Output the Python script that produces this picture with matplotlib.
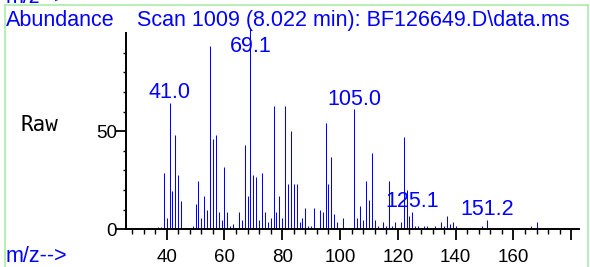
import matplotlib
matplotlib.use('Agg')
import matplotlib.pyplot as plt
from matplotlib.lines import Line2D

mz = [37, 38, 39, 40, 41, 42, 43, 44, 45,
      49, 50, 51, 52, 53, 54, 55, 56, 57, 58, 59, 60, 61, 62, 63,
      65, 66, 67, 68, 69, 70, 71, 72, 73, 74, 75, 76, 77, 78, 79, 80,
      81, 82, 83, 84, 85, 86, 87, 88, 89, 90, 91, 93, 94, 95, 96, 97,
      98, 99, 101, 103, 105, 106, 107, 108, 109, 110, 111, 112, 113,
      115, 116, 117, 118, 119, 121, 122, 123, 124, 125, 126, 127, 129,
      130, 133, 135, 136, 137, 138, 139, 140, 141, 148, 149, 151, 166, 168]
abundance = [1.3, 1.3, 28.8, 5.6, 64.2, 19.7, 47.9, 27.7, 14.6,
             1.7, 12.9, 24.6, 5.6, 16.8, 9.7, 93.4, 46.0, 47.9, 8.7, 4.7, 31.9, 8.7, 1.5, 2.7,
             8.7, 4.7, 42.9, 17.0, 102.0, 27.7, 26.8, 4.7, 28.8, 8.7, 3.6, 5.6, 62.8, 8.7, 17.0, 5.6,
             62.8, 22.9, 50.0, 22.9, 22.9, 3.6, 5.6, 10.7, 1.7, 1.7, 10.7, 9.7, 8.7, 54.0, 22.9, 37.0,
             7.6, 3.7, 5.9, 0.5, 61.1, 5.9, 11.9, 4.7, 24.8, 14.9, 39.0, 4.7, 1.8,
             3.7, 1.8, 24.8, 1.8, 3.7, 3.7, 46.9, 20.0, 6.8, 8.8, 1.7, 1.7, 1.7,
             1.7, 1.7, 3.7, 1.7, 6.8, 2.7, 3.7, 1.7, 0.5, 0.7, 1.7, 4.7, 1.7, 3.7]

peak_labels = ['41.0', '69.1', '105.0', '125.1', '151.2']
peak_x = [41, 69, 105, 125, 151]
peak_label_y = [66.7, 90.5, 63.3, 11.2, 7.3]

x_major = [40, 60, 80, 100, 120, 140, 160, 180]
x_major_labels = ['40', '60', '80', '100', '120', '140', '160', '']
x_minor = [v for v in range(28, 180, 4) if v not in x_major]
y_major = [0, 50]
y_minor = [10, 20, 30, 40, 60, 70, 80, 90]

title = 'Scan 1009 (8.022 min): BF126649.D\\data.ms'

BLUE = '#0000ff'
SANS = 'Liberation Sans'


def main():
    fig = plt.figure(figsize=(5.9, 2.67), dpi=100)
    ax = fig.add_axes([0.2144, 0.1412, 0.7670, 0.7352])

    ax.vlines(mz, 0, abundance, colors=BLUE, linewidth=0.75, clip_on=False)
    for lab, x, y in zip(peak_labels, peak_x, peak_label_y):
        ax.text(x, y, lab, color=BLUE, fontsize=15.5, family=SANS,
                ha='center', va='baseline')

    ax.set_xlim(26.1, 182.7)
    ax.set_ylim(0, 100)
    for side in ['top', 'right']:
        ax.spines[side].set_visible(False)
    for side in ['left', 'bottom']:
        ax.spines[side].set_linewidth(1.4)

    ax.set_xticks(x_major)
    ax.set_xticklabels(x_major_labels)
    ax.set_xticks(x_minor, minor=True)
    ax.set_yticks(y_major)
    ax.set_yticks(y_minor, minor=True)
    ax.tick_params(which='major', length=8, width=1.3, labelsize=13.5)
    ax.tick_params(axis='x', which='major', pad=6)
    ax.tick_params(axis='y', which='major', pad=-1)
    ax.tick_params(axis='x', which='minor', length=3.3, width=1.0)
    ax.tick_params(axis='y', which='minor', length=2, width=1.0)
    for lab in ax.get_xticklabels() + ax.get_yticklabels():
        lab.set_family(SANS)

    fig.text(6 / 590, 1 - 26 / 267, 'Abundance', color=BLUE, fontsize=15.5,
             family=SANS, ha='left', va='baseline')
    fig.text(137 / 590, 1 - 26 / 267, title, color=BLUE, fontsize=15.5,
             family=SANS, ha='left', va='baseline')
    fig.text(20 / 590, 1 - 131 / 267, 'Raw', color='black', fontsize=15,
             family='DejaVu Sans Mono', ha='left', va='baseline')
    fig.text(6 / 590, 1 - 262 / 267, 'm/z-->', color=BLUE, fontsize=15.5,
             family=SANS, ha='left', va='baseline')
    fig.text(6 / 590, 1 - 3 / 267, 'm/z-->', color=BLUE, fontsize=15.5,
             family=SANS, ha='left', va='baseline')

    green = '#a8eea8'
    fig.add_artist(Line2D([5 / 590, 588 / 590], [1 - 5 / 267, 1 - 5 / 267],
                          color=green, linewidth=1.2, transform=fig.transFigure))
    fig.add_artist(Line2D([5 / 590, 5 / 590], [0, 1 - 5 / 267],
                          color=green, linewidth=1.2, transform=fig.transFigure))
    fig.add_artist(Line2D([588 / 590, 588 / 590], [0, 1 - 5 / 267],
                          color=green, linewidth=1.2, transform=fig.transFigure))

    fig.savefig('out.png', dpi=100)


if __name__ == '__main__':
    main()
